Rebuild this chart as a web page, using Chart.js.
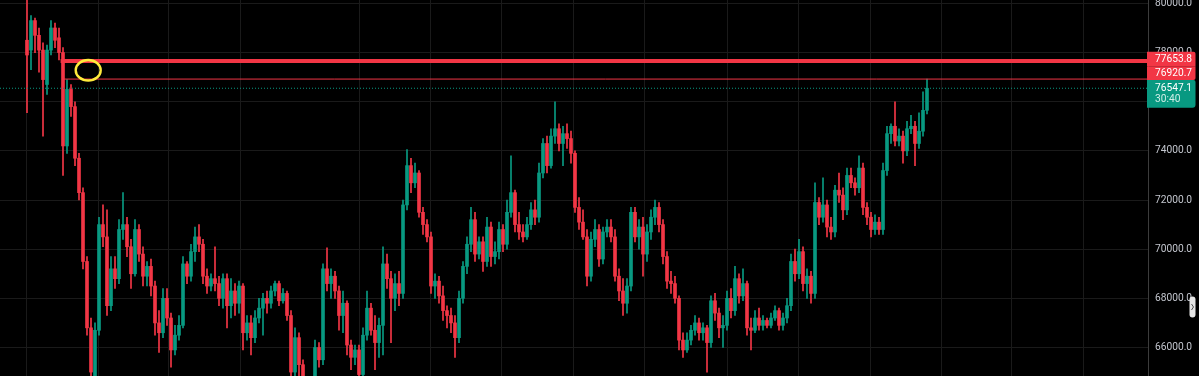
<!DOCTYPE html>
<html><head><meta charset="utf-8">
<script src="https://cdn.jsdelivr.net/npm/chart.js@4.4.1/dist/chart.umd.min.js"></script>
<style>html,body{margin:0;padding:0;background:#000;overflow:hidden}canvas{display:block}</style>
</head><body>
<canvas id="c" width="1199" height="376"></canvas>
<script>
const opens=[
78500,78100,79300,78700,78100,76700,78100,79000,78600,78000,
74200,76500,75800,73700,72300,69500,66800,64700,66700,71000,
70500,67700,69200,68800,70800,71000,70100,69000,70800,69800,
68900,69300,68500,67000,66600,68000,67200,65900,66500,66900,
69400,68900,69900,70500,70200,68900,68500,68800,68600,68000,
68800,67700,68300,67800,68500,66600,67000,66400,67200,67600,
68000,67800,68300,68600,67900,68200,67300,65000,66400,65300,
64500,64300,64600,66000,65500,69200,68600,68900,68300,67300,
67800,66100,65600,65900,64900,66500,67600,66700,66200,66900,
69400,68800,68000,68600,68200,71800,73400,72700,73100,71500,
71000,70500,68500,68700,68100,67500,67300,67000,66400,68000,
69300,70200,71200,69800,70300,69500,70900,69700,69900,70800,
70200,71500,72300,71000,70700,70500,71000,71600,71300,73100,
74300,73400,74600,74900,74300,74700,74500,73900,71700,71100,
70500,68900,70400,70800,69600,70700,70900,70500,68900,68300,
67800,68500,71500,70500,70900,69800,70700,71300,71700,71000,
69700,68700,68600,68000,66300,65900,66300,66700,67000,66600,
66800,66200,67900,67400,66800,66900,68000,67500,68800,68100,
68600,66800,66700,67200,66900,67100,66900,67200,67500,66900,
67200,67700,69500,69000,69900,68600,68900,68200,71900,71300,
71800,70900,70700,72400,72200,71600,73000,72700,72500,73300,
71700,71300,70800,71100,70800,73200,74700,75000,74400,74600,
74000,74900,75000,74300,74800,75650];
const highs=[
80150,79500,79400,79000,78400,78300,79300,79200,79000,78200,
76900,76700,76000,73900,72500,69700,67200,67000,71300,71800,
71600,69700,69700,71200,72300,71300,70400,71200,71000,70100,
69500,69600,68700,67500,68400,68400,67400,66900,67300,69700,
69500,70200,70900,71000,70400,69200,69000,70100,68900,69000,
69000,68800,68600,68700,68600,67300,67300,67500,68000,68200,
68300,68500,68700,68700,68400,68300,67500,66800,66600,65500,
64800,64800,66300,66200,69400,70050,69200,69100,68500,68300,
67900,66300,66100,66100,66800,68300,67800,67300,67200,70100,
69800,69100,69000,69100,72000,74050,73700,73500,73200,71700,
71200,70700,69000,68900,68500,67700,67600,67300,68300,69500,
70500,71700,71500,70500,70500,71300,71100,70300,71100,71000,
72000,73800,72400,71500,71000,71300,71900,72000,73500,74500,
74600,74900,76000,75100,75000,75100,74800,74000,72100,71600,
70800,70700,71200,71000,70900,71200,71200,70800,69200,68800,
68800,71700,71700,71200,71300,71000,71600,72000,71900,71200,
69900,69100,68900,68100,66600,66600,66900,67300,67200,67000,
66900,68100,68200,67600,67300,68300,68400,69300,69000,69200,
68700,67200,67500,67600,67300,67200,67400,67700,67600,67400,
68000,69800,70000,70400,70100,69200,69100,72700,72100,72900,
72000,71300,72600,73100,72500,73300,73300,72900,73800,73500,
71900,71500,71400,71300,73500,75000,75100,76000,74900,74800,
75200,75450,75200,75550,76400,76920.7];
const lows=[
75550,77300,78000,77200,74600,76300,77900,78200,77700,73000,
73900,75400,73400,72000,69200,66500,64300,64400,66500,70100,
67300,67500,68400,68600,70400,69700,68400,68900,69500,68500,
68500,68100,66500,65800,66400,66900,65200,65700,66300,66800,
68600,68700,69500,69900,68600,68200,68300,68300,67700,67600,
66800,67200,67300,67400,65900,66300,65700,66200,67000,66500,
67400,67600,68100,67700,67800,67100,64500,64800,64700,64000,
63900,64000,64400,65200,65300,68300,68000,68000,66700,66600,
65700,65100,65300,64500,64700,66300,66500,65100,65600,65700,
68400,66200,67500,67700,68000,71600,72300,72500,71300,70600,
70300,68200,68000,67800,67100,66800,66600,65600,66200,67800,
69000,69900,69500,69600,69100,69300,69300,69400,69600,69900,
70000,71300,70700,70400,70300,70400,70800,71000,71100,72900,
73100,73300,74300,74000,73400,74100,73500,71500,70800,70400,
68500,68700,70100,69300,69400,70500,70300,68700,67900,67300,
67400,68300,70300,70000,68900,69500,70400,71000,70700,69400,
68400,68200,67800,65900,65600,65800,66100,66500,66300,66300,
65000,66000,67100,66400,66000,66700,67200,67300,67800,67900,
66500,65900,66600,66700,66700,66800,66800,67100,66700,66700,
67000,67500,68700,68800,68300,68000,67800,68000,71000,71100,
70500,70400,70500,71900,71200,71400,72500,72200,72300,71400,
71000,70500,70600,70600,70600,73000,74300,74200,74200,73500,
73800,74700,73400,74100,74600,75500];
const closes=[
77900,79300,78700,78100,76900,78100,79000,78500,78000,74200,
76500,75800,73700,72300,69500,66800,65000,66700,71000,70500,
67700,69200,68800,70800,71000,70100,69000,70800,69800,68900,
69300,68500,67000,66600,68000,67200,65900,66500,66900,69400,
68900,69900,70500,70200,68900,68500,68800,68600,68000,68800,
67700,68300,67800,68500,66600,67000,66400,67200,67600,68000,
67800,68300,68600,67900,68200,67300,65000,66400,65300,64500,
64300,64600,66000,65500,69200,68600,68900,68300,67300,67800,
66100,65600,65900,64900,66500,67600,66700,66200,66900,69400,
68800,68000,68600,68200,71800,73400,72700,73100,71500,71000,
70500,68500,68700,68100,67500,67300,67000,66400,68000,69300,
70200,71200,69800,70300,69500,70900,69700,69900,70800,70200,
71500,72300,71000,70700,70500,71000,71600,71300,73100,74300,
73400,74600,74900,74300,74700,74500,73900,71700,71100,70500,
68900,70400,70800,69600,70700,70900,70500,68900,68300,67800,
68500,71500,70500,70900,69800,70700,71300,71700,71000,69700,
68700,68600,68000,66300,65900,66300,66700,67000,66600,66800,
66200,67900,67400,66800,66900,68000,67500,68800,68100,68600,
66800,66700,67200,66900,67100,66900,67200,67500,66900,67200,
67700,69500,69000,69900,68600,68900,68200,71900,71300,71800,
70900,70700,72400,72200,71600,73000,72700,72500,73300,71700,
71300,70800,71100,70800,73200,74700,75000,74400,74600,74000,
74900,75000,74300,74800,75650,76547.1];
const priceTicks=[66000,68000,70000,72000,74000,76000,78000,80000];
const timeGridIdx=[-0.08,17.8,35.3,53.4,83.1,100.75,118.7,136.6,154.3,175.1,192.8,210.75,228.7,246.2,264.1];
const levelValues=[77653.8,76920.7,76547.1];
const levelStartIdx=[8.4,9,-6.75];
const countdownText='30:40';
const markIdx=15.3, markPrice=77280;

const UP='#089981', DOWN='#f23645', GRID='#1a1a1a';
const idx=opens.map((_,i)=>i);
const colors=idx.map(i=>closes[i]>=opens[i]?UP:DOWN);
const X_MIN=-6.75, X_MAX=280.25, Y_MIN=64840, Y_MAX=80138;
const FONT={family:"Roboto, 'Liberation Sans', sans-serif", size:10.2};

const overlay={id:'overlay', afterDraw(chart){
  const ctx=chart.ctx, x=chart.scales.x, y=chart.scales.y, a=chart.chartArea;
  ctx.save();
  ctx.strokeStyle='#ffeb3b'; ctx.lineWidth=2.4;
  ctx.beginPath();
  ctx.ellipse(x.getPixelForValue(markIdx), y.getPixelForValue(markPrice), 12.5, 10.2, 0, 0, Math.PI*2);
  ctx.stroke();
  const p1=y.getPixelForValue(levelValues[0]), p2=y.getPixelForValue(levelValues[1]), p3=y.getPixelForValue(levelValues[2]);
  const L=a.right-1, W=48.5;
  const t1=p1-9.4, b1=p1+5.6, b2=p2+0.9, b3=p3+19.5;
  ctx.fillStyle=DOWN;
  ctx.beginPath(); ctx.roundRect(L,t1,W,b1-t1,[0,2,0,0]); ctx.fill();
  ctx.beginPath(); ctx.roundRect(L,b1,W,b2-b1,[0,0,2,0]); ctx.fill();
  ctx.fillStyle=UP;
  ctx.beginPath(); ctx.roundRect(L,b2,W,b3-b2,[0,2,3,0]); ctx.fill();
  ctx.font=FONT.size+'px '+FONT.family;
  ctx.textAlign='left'; ctx.textBaseline='middle';
  ctx.fillStyle='#ffffff';
  ctx.fillText(levelValues[0].toFixed(1), L+8, (t1+b1)/2);
  ctx.fillText(levelValues[1].toFixed(1), L+8, (b1+b2)/2);
  ctx.fillText(levelValues[2].toFixed(1), L+8, p3);
  ctx.fillStyle='#cfeee7';
  ctx.fillText(countdownText, L+8, p3+11.5);
  ctx.fillStyle='#e6e6e6';
  ctx.beginPath(); ctx.roundRect(1189.5,296.5,6,21,3); ctx.fill();
  ctx.strokeStyle='#555'; ctx.lineWidth=1;
  ctx.beginPath(); ctx.moveTo(1191.5,304); ctx.lineTo(1193.5,307); ctx.lineTo(1191.5,310); ctx.stroke();
  ctx.restore();
}};

const noPad=s=>{s.paddingTop=0;s.paddingBottom=0;s.paddingLeft=0;s.paddingRight=0;};

new Chart(document.getElementById('c'), {
  type:'bar',
  data:{datasets:[
    {type:'line', data:[{x:levelStartIdx[2],y:levelValues[2]},{x:X_MAX,y:levelValues[2]}], borderColor:UP, borderWidth:1, borderDash:[1,2], pointRadius:0, order:0},
    {type:'line', data:[{x:levelStartIdx[1],y:levelValues[1]},{x:X_MAX,y:levelValues[1]}], borderColor:DOWN, borderWidth:1, pointRadius:0, order:0},
    {type:'line', data:[{x:levelStartIdx[0],y:levelValues[0]},{x:X_MAX,y:levelValues[0]}], borderColor:DOWN, borderWidth:4, pointRadius:0, order:0},
    {type:'bar', data:idx.map(i=>({x:i,y:[opens[i],closes[i]]})), backgroundColor:colors, barThickness:3, grouped:false, minBarLength:1, order:1},
    {type:'bar', data:idx.map(i=>({x:i,y:[lows[i],highs[i]]})), backgroundColor:colors, barThickness:1, grouped:false, order:2}
  ]},
  options:{
    responsive:false, animation:false, devicePixelRatio:1, events:[],
    layout:{padding:0},
    plugins:{legend:{display:false}, tooltip:{enabled:false}},
    scales:{
      x:{type:'linear', min:X_MIN, max:X_MAX, offset:false,
         grid:{color:GRID, drawTicks:false, offset:false}, border:{display:false}, ticks:{display:false},
         afterBuildTicks:s=>{s.ticks=timeGridIdx.map(v=>({value:v}));},
         afterFit:s=>{s.height=0;noPad(s);}},
      y:{type:'linear', position:'right', min:Y_MIN, max:Y_MAX,
         grid:{color:GRID, drawTicks:false}, border:{display:true, color:'#3c3c3c'},
         ticks:{color:'#c3c6ce', font:FONT, padding:7, autoSkip:false, callback:v=>Number(v).toFixed(1)},
         afterBuildTicks:s=>{s.ticks=priceTicks.map(v=>({value:v}));},
         afterFit:s=>{s.width=51;noPad(s);}}
    }
  },
  plugins:[overlay]
});
</script>
</body></html>
